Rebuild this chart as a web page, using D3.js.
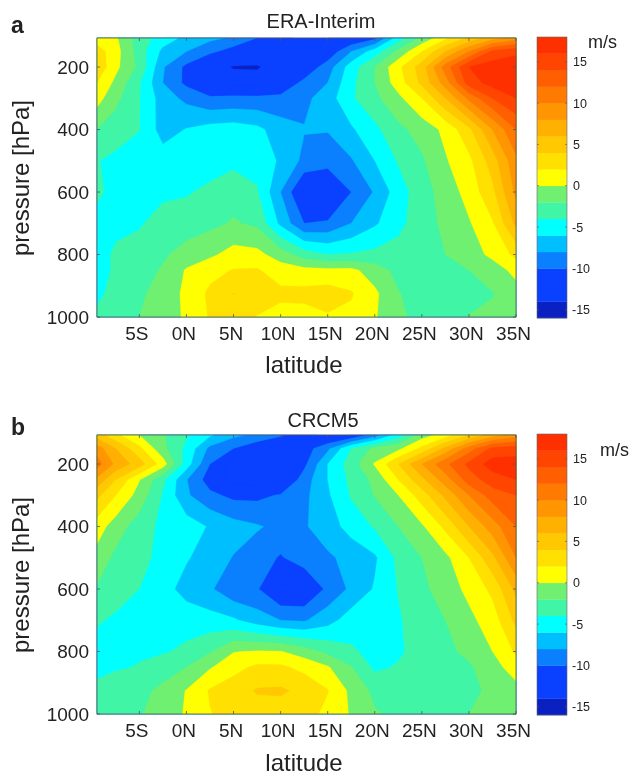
<!DOCTYPE html>
<html><head><meta charset="utf-8">
<script src="https://cdn.jsdelivr.net/npm/d3@7"></script>
<style>
html,body{margin:0;padding:0;background:#fff}
svg{display:block;filter:blur(0.5px)}
text{font-family:"Liberation Sans",Arial,sans-serif;fill:#222}
</style></head><body>
<svg id="c" width="632" height="775"></svg>
<script>
const latitudes=[-9.5,-7.5,-5,-2.5,0,2.5,5,7.5,10,12.5,15,17.5,20,22.5,25,27.5,30,32.5,35];
const pressures=[107,150,200,250,300,400,500,600,700,800,850,925,1000];
const eraInterim=[
[1,0.3,-3,-5,-6.5,-7.5,-8.3,-10,-11.5,-12.5,-12,-12,-10.5,-5,-1.5,1.5,4.5,7,9],
[3,0.8,-3,-6.5,-8,-9.5,-11,-12.5,-13,-12.5,-11.5,-8,-5,-1.5,2,6,10,14.5,15.5],
[3.5,0.5,-2.5,-7.8,-10.5,-12.8,-14.2,-14.2,-13,-11.5,-9,-5,-2,1.5,5,11,16,17,17.5],
[2,-0.5,-3.8,-8,-10.5,-12,-12.5,-13,-11.5,-9.5,-8,-4.5,-2,1,4.5,9,15,16.8,17.5],
[0.8,-1.5,-3.9,-7,-8.5,-9.7,-9.5,-9.5,-9.5,-8.5,-7,-4.3,-2.5,-0.5,2,6,10.5,14,16],
[-2,-3,-3.95,-6.9,-5.9,-5.2,-5,-5.5,-7,-7.9,-7.9,-6.3,-4.5,-2.5,-1.2,0.5,3.5,8,12],
[-3.9,-4.5,-4.8,-5,-5,-5,-4.5,-4.7,-6.3,-8.5,-9,-8.2,-6,-3.8,-2.3,-0.2,1.5,5,9.5],
[-3.7,-4.5,-4.6,-4.4,-4.2,-3.5,-2.8,-3.8,-8,-12.5,-13,-10,-7.8,-5,-2.8,-1.2,0.8,3.5,8.5],
[-4.5,-4.3,-4.2,-3.2,-3,-2.5,-1.8,-2.4,-6.5,-10,-9.7,-8,-6.3,-4.5,-3,-1.5,-0.2,1.8,6.5],
[-4.5,-3.8,-3.2,-2.3,-1.2,-0.4,0.8,0.6,-1,-3,-4,-3.8,-3.5,-3.3,-3,-2,-1,0.5,2.5],
[-4.5,-3.8,-2.8,-1.8,0.2,1.4,2.1,2.2,1,0.6,0.5,0.5,-1,-2.6,-3,-2.7,-2,-1,0.6],
[-4.2,-3.7,-2.3,-1.3,0.5,2.4,4.05,3.3,2.5,2.6,2.9,2.2,0.4,-1.9,-2.8,-3,-3,-2.1,-0.8],
[-3.8,-2.9,-2,-1,0.3,2.2,2.8,1.9,1.2,1.2,1.8,1.5,0.2,-1.7,-2.5,-2.6,-1.9,-1.6,-1]
];
const crcm5=[
[5,2.5,0,-1.8,-3.8,-5.7,-7.5,-8.5,-9.7,-11.5,-12.5,-12,-9,-5,-1,1,4,7,9],
[9,6,2.5,-1.5,-4.5,-8.5,-10,-11.5,-12.5,-11,-8.5,-4,-1.5,-0.5,2.5,6.5,11,14.5,15],
[11,7.5,5,1,-5,-10,-13,-13.5,-13.5,-10.5,-6,-3,0.2,4,8,11.5,14.5,17,17],
[7.5,4,0.1,-3.5,-7.9,-11,-12.5,-13,-12.5,-9,-6,-3.5,-1.5,2,5.5,9,13,15,16],
[4.5,2,-0.8,-4.2,-7.7,-9.5,-10.5,-10.5,-9.8,-8.5,-6.3,-3.8,-1.9,0,3,6.5,10,13,14],
[1,-1,-3,-4.5,-5,-6.2,-7.2,-7.8,-8.5,-8.2,-7,-5.2,-3.8,-2,-0.3,2.5,6,9,12],
[-0.8,-2.5,-3.4,-4.6,-5.8,-7,-8.1,-9,-10.2,-8.9,-8.3,-7.4,-6.3,-3.5,-2,-0.5,2,5.5,10],
[-2.2,-3.2,-4,-5.2,-6.8,-7.7,-9.5,-9.8,-12.3,-12.3,-9.5,-7.6,-5.8,-3.9,-2.5,-1,0.5,2.5,6.5],
[-3.8,-4.3,-4.5,-5,-4.8,-5.2,-5.7,-7,-8,-8.2,-6.8,-5,-4.5,-4.2,-3,-2,-0.5,1,4.5],
[-4.6,-4.4,-4.2,-4.2,-3.6,-2.2,-0.1,0.2,0.1,-1,-2.5,-3.7,-4.6,-4.3,-3.2,-2.5,-1.5,0,2.3],
[-4.4,-4.2,-3.9,-3,-2,-0.2,1.4,2.4,2.4,1.4,0.2,-1.9,-4.4,-3.8,-3.2,-3,-2.3,-0.8,1],
[-3.6,-3,-2.6,-1.5,0.1,2.2,3,4.2,4.3,3.5,2.1,-0.5,-2.5,-3,-3,-3,-2.6,-1.5,-0.7],
[-3.2,-2.9,-2.2,-1,0.2,1.9,2.8,3,3,2.8,1.5,-0.2,-1.8,-2.4,-2.2,-2.4,-2,-1.3,-0.8]
];
const levels=[-16,-14,-12,-10,-8,-6,-4,-2,0,2,4,6,8,10,12,14,16,18];
const bandColors=["#0a20c0","#0a40ff","#0a40ff","#0a80ff","#00bfff","#00ffff","#40f5a5","#70f070","#ffff00","#ffe000","#ffc800","#ffb000","#ff9500","#ff7a00","#ff5f00","#ff4500","#ff3000"];
const latTicks=[-5,0,5,10,15,20,25,30,35];
const latLabels=["5S","0N","5N","10N","15N","20N","25N","30N","35N"];
const pressureTicks=[200,400,600,800,1000];
const barTicks=[15,10,5,0,-5,-10,-15];

const svg=d3.select("#c");
const lineCol="#555";

function panel(cfg){
  const x=d3.scaleLinear().domain([-9.5,35]).range([97,516]);
  const y=d3.scaleLinear().domain([107,1000]).range([cfg.top,cfg.top+279]);
  const g=svg.append("g");
  const nx=latitudes.length, ny=pressures.length;
  const sx=d3.scaleLinear().domain(latitudes.map((d,i)=>i+0.5)).range(latitudes.map(x)).clamp(true);
  const sy=d3.scaleLinear().domain(pressures.map((d,i)=>i+0.5)).range(pressures.map(y)).clamp(true);
  const path=d3.geoPath(d3.geoTransform({point(a,b){this.stream.point(sx(a),sy(b));}}));
  const flat=cfg.rows.flat();
  g.append("rect").attr("x",97).attr("y",cfg.top).attr("width",419).attr("height",279).attr("fill",bandColors[0]);
  const cont=d3.contours().size([nx,ny]).thresholds(levels.slice(1,-1))(flat);
  g.selectAll("path.band").data(cont).join("path").attr("class","band")
    .attr("d",path)
    .attr("fill",d=>bandColors[levels.indexOf(d.value)])
    .attr("stroke",d=>bandColors[levels.indexOf(d.value)]).attr("stroke-width",0.3);
  const bottom=cfg.top+279;
  g.append("rect").attr("x",97).attr("y",cfg.top).attr("width",419).attr("height",279)
    .attr("fill","none").attr("stroke",lineCol).attr("stroke-width",0.8);
  const ax=g.append("g").attr("stroke",lineCol).attr("stroke-width",0.8);
  latTicks.forEach(t=>{
    ax.append("line").attr("x1",x(t)).attr("x2",x(t)).attr("y1",bottom).attr("y2",bottom-3);
    ax.append("line").attr("x1",x(t)).attr("x2",x(t)).attr("y1",cfg.top).attr("y2",cfg.top+3);
  });
  pressureTicks.forEach(t=>{
    ax.append("line").attr("x1",97).attr("x2",100).attr("y1",y(t)).attr("y2",y(t));
    ax.append("line").attr("x1",516).attr("x2",513).attr("y1",y(t)).attr("y2",y(t));
  });
  latTicks.forEach((t,i)=>{
    g.append("text").attr("x",x(t)-2.5).attr("y",bottom+23).attr("text-anchor","middle").attr("font-size",19).text(latLabels[i]);
  });
  pressureTicks.forEach(t=>{
    g.append("text").attr("x",89).attr("y",y(t)+6.5).attr("text-anchor","end").attr("font-size",19).text(t);
  });
  g.append("text").attr("x",cfg.titleX).attr("y",cfg.titleY).attr("text-anchor","middle").attr("font-size",20).text(cfg.title);
  g.append("text").attr("x",11).attr("y",cfg.letterY).attr("font-size",23).attr("font-weight","bold").attr("fill","#111").text(cfg.letter);
  g.append("text").attr("x",304).attr("y",cfg.xLabelY).attr("text-anchor","middle").attr("font-size",24).text("latitude");
  g.append("text").attr("transform",`translate(29,${cfg.top+140}) rotate(-90)`).attr("text-anchor","middle").attr("font-size",24).text("pressure [hPa]");
  const c=d3.scaleLinear().domain([18,-16]).range([cfg.top-1,cfg.top+280]);
  const bar=g.append("g");
  bar.selectAll("rect").data(bandColors).join("rect")
    .attr("x",537).attr("width",30)
    .attr("y",(d,i)=>c(levels[i+1])).attr("height",(d,i)=>c(levels[i])-c(levels[i+1])+0.3)
    .attr("fill",d=>d);
  bar.append("rect").attr("x",537).attr("y",c(18)).attr("width",30).attr("height",c(-16)-c(18))
    .attr("fill","none").attr("stroke","#667").attr("stroke-width",0.6);
  barTicks.forEach(t=>{
    bar.append("line").attr("x1",537).attr("x2",539).attr("y1",c(t)).attr("y2",c(t)).attr("stroke",lineCol).attr("stroke-width",0.6);
    bar.append("line").attr("x1",567).attr("x2",565).attr("y1",c(t)).attr("y2",c(t)).attr("stroke",lineCol).attr("stroke-width",0.6);
    bar.append("text").attr("x",t<0?572:573).attr("y",c(t)+4.5).attr("font-size",12.5).text(t);
  });
  g.append("text").attr("x",cfg.unitX).attr("y",cfg.unitY).attr("font-size",18).text("m/s");
}
panel({rows:eraInterim,top:38,title:"ERA-Interim",titleX:321,titleY:28,letter:"a",letterY:33,xLabelY:373,unitX:588,unitY:48});
panel({rows:crcm5,top:435,title:"CRCM5",titleX:323,titleY:427,letter:"b",letterY:435,xLabelY:771,unitX:600,unitY:456});
</script></body></html>
